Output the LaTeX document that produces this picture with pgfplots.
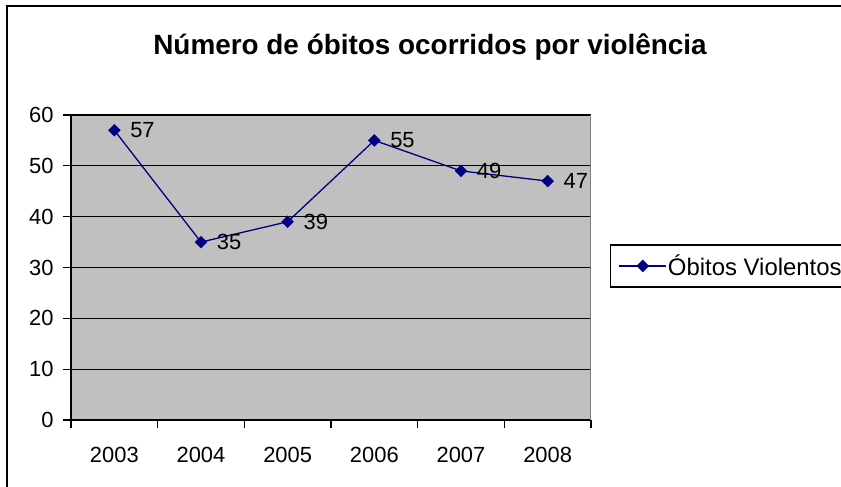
\documentclass[border=0pt]{standalone}
\usepackage{fontspec}
\setmainfont{Liberation Sans}
\usepackage{pgfplots}
\pgfplotsset{compat=1.18}
\definecolor{plotgray}{HTML}{C0C0C0}
\definecolor{navyline}{HTML}{000080}
\definecolor{edgegray}{HTML}{808080}
\begin{document}
\begin{tikzpicture}
\useasboundingbox (0,0) rectangle (841bp,487bp);
\clip (0,0) rectangle (841bp,487bp);
\fill[white] (-5bp,-5bp) rectangle (850bp,495bp);
\draw[line width=2bp] (7bp,-5bp) -- (7bp,481bp) -- (850bp,481bp);
\node[font=\bfseries\fontsize{28}{32}\selectfont] at (430bp,440bp) {Número de óbitos ocorridos por violência};
\begin{axis}[
  at={(71bp,67bp)}, anchor=south west,
  scale only axis, width=520bp, height=305bp,
  xmin=-0.5, xmax=5.5, ymin=0, ymax=60,
  ytick={0,10,...,60},
  xtick={0,1,2,3,4,5},
  xticklabels={2003,2004,2005,2006,2007,2008},
  minor xtick={-0.5,0.5,...,5.5},
  axis background/.style={fill=plotgray},
  axis x line*=bottom, axis y line*=left,
  axis line style={black, line width=1.3bp},
  ymajorgrids, major grid style={black, line width=1.3bp},
  tick align=outside,
  major tick length=8bp, minor tick length=8bp,
  major x tick style={draw=none},
  tick style={black, line width=1.3bp},
  tick label style={font=\fontsize{22}{24}\selectfont},
  /pgf/number format/assume math mode=true,
  xticklabel style={yshift=-16bp},
  yticklabel style={xshift=-6bp},
  nodes near coords,
  every node near coord/.append style={anchor=west, xshift=12bp, font=\fontsize{22}{24}\selectfont, text=black},
  legend style={at={(1.0365,0.505)}, anchor=west, draw=black, line width=1.3bp, fill=white,
    font=\fontsize{24}{26}\selectfont, inner xsep=8bp, inner ysep=9bp,
    nodes={inner sep=1bp}},
  legend image code/.code={\draw[mark repeat=2,mark phase=2,#1] plot coordinates {(0bp,0bp)(23.5bp,0bp)(47bp,0bp)};},
]
\draw[edgegray, line width=1.3bp] (rel axis cs:1,0) -- (rel axis cs:1,1);
\addplot[navyline, line width=1.3bp, mark=square*, mark size=3.8bp, mark options={solid, fill=navyline, rotate=45}]
  coordinates {(0,57) (1,35) (2,39) (3,55) (4,49) (5,47)};
\addlegendentry{Óbitos Violentos}
\end{axis}
\end{tikzpicture}
\end{document}
